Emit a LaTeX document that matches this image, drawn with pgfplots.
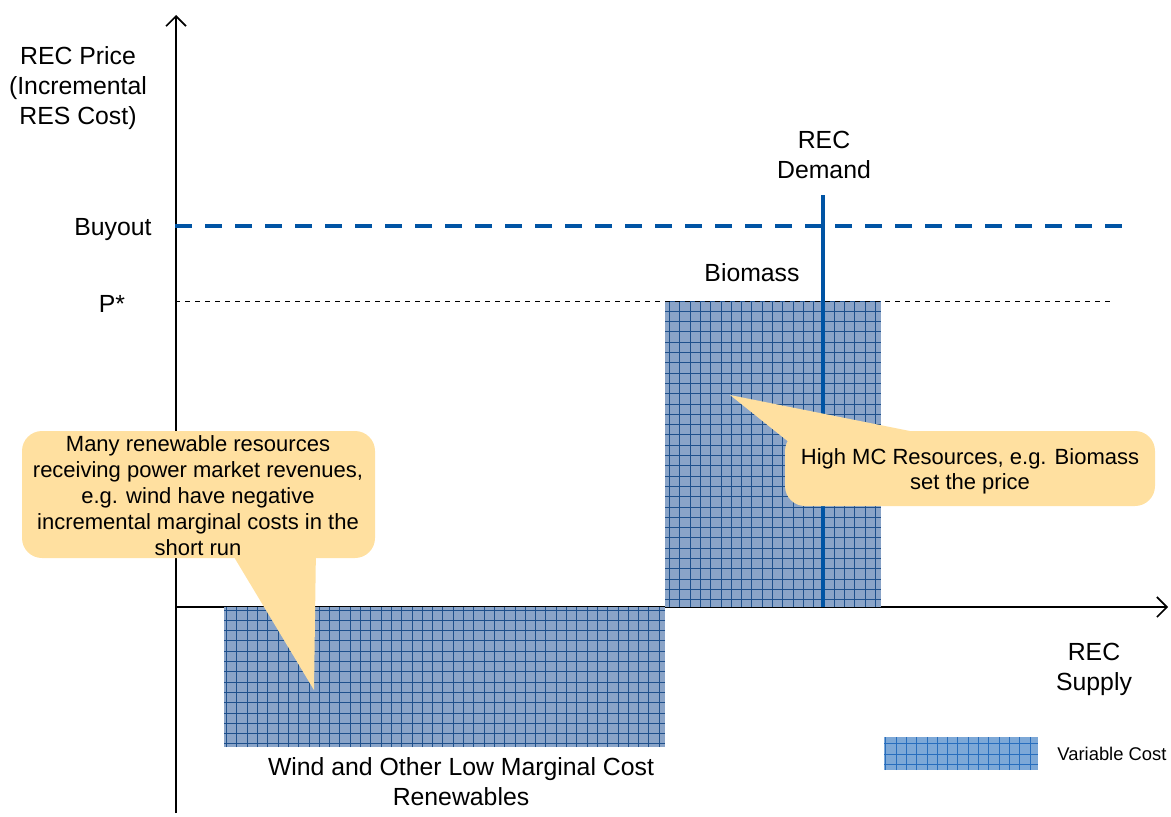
\documentclass[border=0pt]{standalone}
\usepackage{pgfplots}
\pgfplotsset{compat=1.18}
\usepackage{fontspec}
\setmainfont{Liberation Sans}
\usetikzlibrary{arrows.meta}
\definecolor{RecBlue}{RGB}{0,84,164}
\definecolor{BarFill}{RGB}{138,164,200}
\definecolor{BarGrid}{RGB}{30,80,140}
\definecolor{LegFill}{RGB}{125,168,215}
\definecolor{LegGrid}{RGB}{40,110,190}
\definecolor{Callout}{RGB}{255,224,160}

\begin{document}
\begin{tikzpicture}[font=\fontsize{12.4}{15}\selectfont, every node/.style={inner sep=0pt}]
\begin{axis}[
  scale only axis, width=585.5pt, height=408pt,
  xmin=-175, xmax=996, ymin=-209, ymax=607,
  hide axis, clip=false,
  ]
  \path (axis cs:-175,-209) rectangle (axis cs:996,607);

  % axes
  \draw[line width=0.8pt, -{Straight Barb[length=5pt,width=10pt]}]
    (axis cs:1,-206) -- (axis cs:1,592);
  \draw[line width=0.8pt, -{Straight Barb[length=5pt,width=10pt]}]
    (axis cs:0,0) -- (axis cs:993,0);

  % supply steps (variable cost)
  \addplot[draw=none, fill=BarFill]
    coordinates {(49,0) (490,0) (490,-140) (49,-140)} -- cycle;
  \addplot[draw=none, fill=BarFill]
    coordinates {(490,0) (706,0) (706,306) (490,306)} -- cycle;
  \draw[BarGrid, line width=0.5pt, step=5.15pt] (axis cs:49,-140) grid (axis cs:490,0);
  \draw[BarGrid, line width=0.5pt, step=5.15pt] (axis cs:490,0) grid (axis cs:706,306);

  % price levels and demand
  \addplot[RecBlue, line width=2pt, dash pattern=on 8.5pt off 6.5pt]
    coordinates {(0,381) (956,381)};
  \addplot[black, line width=0.5pt, dash pattern=on 2.5pt off 2.5pt]
    coordinates {(0,306) (935,306)};
  \addplot[RecBlue, line width=2pt]
    coordinates {(648,0) (648,412)};

  % labels
  \node[align=center] at (axis cs:-97,519) {REC Price\\(Incremental\\RES Cost)};
  \node[anchor=east] at (axis cs:-23,377) {Buyout};
  \node at (axis cs:-63,303) {P*};
  \node[align=center] at (axis cs:649,452) {REC\\Demand};
  \node at (axis cs:577,334) {Biomass};
  \node[align=center] at (axis cs:919,-62) {REC\\Supply};
  \node[align=center] at (axis cs:286,-175) {Wind and Other Low Marginal Cost\\Renewables};

  % legend
  \fill[LegFill] (axis cs:709,-130) rectangle (axis cs:863,-163);
  \draw[LegGrid, line width=0.5pt, step=5.15pt] (axis cs:709,-163) grid (axis cs:863,-130);
  \node[anchor=west, font=\fontsize{9.2}{11}\selectfont] at (axis cs:882,-147) {Variable Cost};

  % callouts
  \fill[Callout] (axis cs:53,60) -- (axis cs:141,60) -- (axis cs:139,-83) -- cycle;
  \fill[Callout, rounded corners=10pt] (axis cs:-153,176) rectangle (axis cs:200,49);
  \node[align=center, font=\fontsize{11}{13}\selectfont] at (axis cs:23,111)
    {Many renewable resources\\receiving power market revenues,\\e.g. wind have negative\\incremental marginal costs in the\\short run};

  \fill[Callout] (axis cs:555,212) -- (axis cs:765,170) -- (axis cs:620,160) -- cycle;
  \fill[Callout, rounded corners=10pt] (axis cs:610,176) rectangle (axis cs:980,101);
  \node[align=center, font=\fontsize{11}{12.5}\selectfont] at (axis cs:795,136)
    {High MC Resources, e.g. Biomass\\set the price};
\end{axis}
\end{tikzpicture}
\end{document}
